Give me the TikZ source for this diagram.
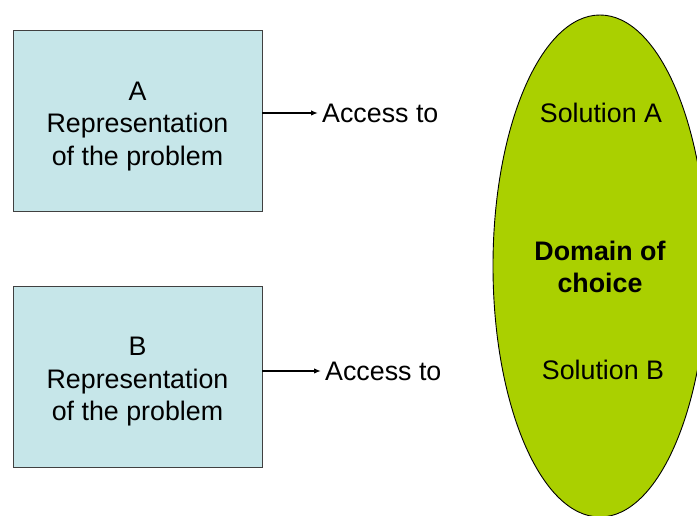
\documentclass[tikz,border=0pt]{standalone}
\usepackage{fontspec}
\setmainfont{Liberation Sans}
\usetikzlibrary{shapes.geometric,arrows.meta}
\definecolor{reprblue}{RGB}{198,230,233}
\definecolor{choicegreen}{RGB}{170,208,0}
\newcommand{\diagfont}{\fontsize{26.8}{32.5}\selectfont}
\tikzset{
  reprbox/.style={draw=black!75,line width=0.8pt,fill=reprblue,minimum width=249pt,minimum height=181pt,inner sep=0pt},
  choiceoval/.style={ellipse,draw=black,line width=0.9pt,fill=choicegreen,minimum width=214pt,minimum height=502pt,inner sep=0pt},
  plain/.style={font=\diagfont,align=center,inner sep=4pt},
  access/.style={-{Latex[length=7pt,width=5.5pt]},line width=1.4pt}
}
\begin{document}
\begin{tikzpicture}[x=1pt,y=1pt]
\useasboundingbox (0,0) rectangle (697,516);
\clip (0,0) rectangle (697,516);
% Domain of choice
\node[choiceoval] (dom) at (600,250) {};
\node[plain,font=\diagfont\bfseries] (domtext) at (600,249) {Domain of\\choice};
\node[plain] (solA) at (601,403) {Solution A};
\node[plain] (solB) at (603,146) {Solution B};
% Representations of the problem
\node[reprbox,label={[plain,yshift=-6pt]center:A\\Representation\\of the problem}] (reprA) at (137.5,395.5) {};
\node[reprbox,label={[plain,yshift=-5pt]center:B\\Representation\\of the problem}] (reprB) at (137.5,139) {};
% Access
\node[plain,anchor=west] (accA) at (318,403) {Access to};
\node[plain,anchor=west] (accB) at (321,145) {Access to};
\draw[access] (reprA.east |- accA.west) -- (accA.west);
\draw[access] (reprB.east |- accB.west) -- (accB.west);
\end{tikzpicture}
\end{document}
